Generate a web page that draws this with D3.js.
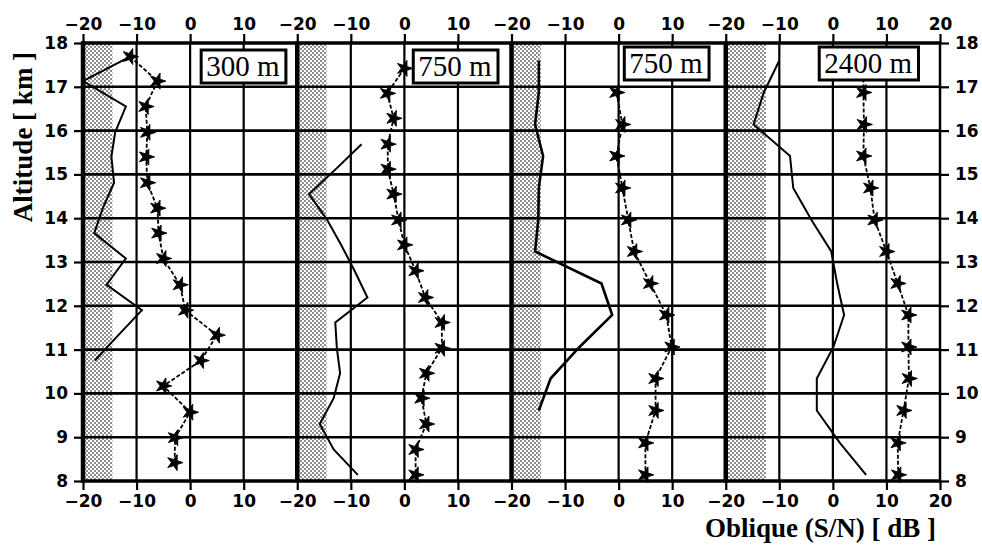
<!DOCTYPE html>
<html>
<head>
<meta charset="utf-8">
<script src="https://cdn.jsdelivr.net/npm/d3@7"></script>
<style>
body { margin: 0; background: #fff; }
svg { display: block; }
.tick text { font-family: "DejaVu Sans", sans-serif; font-weight: bold; font-size: 17px; fill: #000; }
.tick line { stroke: #000; stroke-width: 2.2; }
</style>
</head>
<body>
<svg id="chart" width="982" height="549"></svg>
<script>
// panel titles and the right edge of the noise (stippled) band, in dB
const panelLabels = ["300 m", "750 m", "750 m", "2400 m"];
const noiseEdge = [-14.5, -14.5, -14.5, -12.5];

// panel 1 (300 m)
const alt1 = [17.69, 17.13, 16.55, 15.96, 15.40, 14.81, 14.23, 13.66, 13.08, 12.48, 11.90, 11.33, 10.75, 10.17, 9.57, 8.99, 8.42];
const star1 = [-11.2, -6.1, -8.3, -8.0, -8.2, -8.0, -6.1, -5.9, -5.0, -1.9, -0.9, 5.0, 2.0, -5.0, 0.0, -2.8, -2.9];
const solid1 = [-11.2, -20, -12.0, -14.0, -14.7, -14.2, -16.3, -17.9, -12.0, -15.6, -9.0, -13.4, -17.8, null, null, null, null];

// panel 2 (750 m)
const alt2 = [17.42, 16.85, 16.28, 15.69, 15.12, 14.55, 13.96, 13.39, 12.80, 12.19, 11.62, 11.03, 10.46, 9.89, 9.30, 8.72, 8.14];
const star2 = [0.0, -3.2, -2.0, -3.1, -3.1, -2.0, -1.1, 0.0, 2.1, 3.9, 7.0, 7.0, 4.1, 3.2, 4.1, 2.1, 2.1];
const solid2 = [null, null, null, -8.0, -12.8, -17.8, -14.4, -11.8, -9.3, -6.9, -12.9, -12.6, -12.0, -13.2, -15.8, -13.2, -8.7];

// panel 3 (750 m)
const alt3 = [17.6, 16.87, 16.14, 15.42, 14.69, 13.96, 13.24, 12.51, 11.79, 11.06, 10.34, 9.61, 8.87, 8.14];
const star3 = [null, -0.4, 0.7, -0.4, 0.7, 1.8, 2.9, 5.9, 8.9, 9.9, 6.9, 6.9, 5.0, 5.0];
const solid3 = [-14.9, -14.9, -15.6, -14.1, -14.9, -15.0, -15.6, -3.2, -1.2, -7.3, -12.7, -14.9, null, null];

// panel 4 (2400 m)
const alt4 = [17.6, 16.87, 16.14, 15.42, 14.69, 13.96, 13.24, 12.51, 11.79, 11.06, 10.34, 9.61, 8.87, 8.14];
const star4 = [5.7, 5.7, 5.8, 5.7, 7.0, 7.8, 10.0, 12.1, 14.1, 14.1, 14.2, 13.2, 12.1, 12.2];
const solid4 = [-10.0, -12.9, -14.8, -8.0, -7.4, -4.0, -0.3, 0.8, 2.1, 0.1, -3.0, -3.0, 1.3, 6.2];

const panels = [
  { alt: alt1, star: star1, solid: solid1 },
  { alt: alt2, star: star2, solid: solid2 },
  { alt: alt3, star: star3, solid: solid3 },
  { alt: alt4, star: star4, solid: solid4 }
];

// layout
const mLeft = 83, mRight = 940, mTop = 43, mBottom = 481;
const pw = (mRight - mLeft) / 4;
const labelRight = [17.8, 17.4, 16.8, 15.9];
const labelTop = [50, 50, 47, 47];

const svg = d3.select("#chart");
const y = d3.scaleLinear().domain([8, 18]).range([mBottom, mTop]);
const xs = d3.range(4).map(i => d3.scaleLinear().domain([-20, 20]).range([mLeft + i * pw, mLeft + (i + 1) * pw]));

const defs = svg.append("defs");
const pat = defs.append("pattern").attr("id", "stip").attr("width", 4).attr("height", 4).attr("patternUnits", "userSpaceOnUse");
pat.append("rect").attr("width", 4).attr("height", 4).attr("fill", "#fff");
pat.append("circle").attr("cx", 1).attr("cy", 1).attr("r", 0.8).attr("fill", "#000");
pat.append("circle").attr("cx", 3).attr("cy", 3).attr("r", 0.8).attr("fill", "#000");

// noise bands
svg.append("g").selectAll("rect").data(noiseEdge).enter().append("rect")
  .attr("x", (d, i) => xs[i](-20))
  .attr("width", (d, i) => xs[i](d) - xs[i](-20))
  .attr("y", mTop).attr("height", mBottom - mTop)
  .attr("fill", "url(#stip)");

// grid
const grid = svg.append("g").attr("stroke", "#000");
grid.selectAll(".h").data(d3.range(9, 18)).enter().append("line")
  .attr("x1", mLeft).attr("x2", mRight).attr("y1", d => y(d)).attr("y2", d => y(d))
  .attr("stroke-width", 2.6);
xs.forEach((x, i) => {
  grid.selectAll(".v" + i).data([-10, 0, 10]).enter().append("line")
    .attr("x1", d => x(d)).attr("x2", d => x(d)).attr("y1", mTop).attr("y2", mBottom)
    .attr("stroke-width", 2.2);
  grid.append("line").attr("x1", x(-20)).attr("x2", x(-20)).attr("y1", mTop - 1.5).attr("y2", mBottom + 1.5)
    .attr("stroke-width", 4.5);
});
grid.append("line").attr("x1", mRight).attr("x2", mRight).attr("y1", mTop - 1.5).attr("y2", mBottom + 1.5).attr("stroke-width", 2.5);
grid.selectAll(".f").data([8, 18]).enter().append("line")
  .attr("x1", mLeft - 2).attr("x2", mRight + 1).attr("y1", d => y(d)).attr("y2", d => y(d))
  .attr("stroke-width", 3.5);

// axes
xs.forEach((x, i) => {
  const tv = i === 3 ? [-20, -10, 0, 10, 20] : [-20, -10, 0, 10];
  svg.append("g").attr("transform", `translate(0,${mTop})`)
    .call(d3.axisTop(x).tickValues(tv).tickSize(9).tickPadding(4).tickFormat(d3.format("d")))
    .call(g => g.select(".domain").remove());
  svg.append("g").attr("transform", `translate(0,${mBottom})`)
    .call(d3.axisBottom(x).tickValues(tv).tickSize(9).tickPadding(5).tickFormat(d3.format("d")))
    .call(g => g.select(".domain").remove());
});
svg.append("g").attr("transform", `translate(${mLeft},0)`)
  .call(d3.axisLeft(y).ticks(10).tickSize(9).tickPadding(6).tickFormat(d3.format("d")))
  .call(g => g.select(".domain").remove());
svg.append("g").attr("transform", `translate(${mRight},0)`)
  .call(d3.axisRight(y).ticks(10).tickSize(9).tickPadding(6).tickFormat(d3.format("d")))
  .call(g => g.select(".domain").remove());

// data
const star = d3.symbol().type(d3.symbolStar).size(80);
panels.forEach((p, i) => {
  const x = xs[i];
  const solid = p.alt.map((a, k) => [a, p.solid[k]]);
  const dashed = p.alt.map((a, k) => [a, p.star[k]]);
  const line = d3.line().defined(d => d[1] != null).x(d => x(d[1])).y(d => y(d[0]));
  svg.append("path").datum(solid).attr("d", line)
    .attr("fill", "none").attr("stroke", "#000").attr("stroke-width", i === 2 ? 2.6 : 2).attr("stroke-linejoin", "miter");
  svg.append("path").datum(dashed).attr("d", line)
    .attr("fill", "none").attr("stroke", "#000").attr("stroke-width", 1.8).attr("stroke-dasharray", "4,2");
  svg.append("g").selectAll("path").data(dashed.filter(d => d[1] != null)).enter().append("path")
    .attr("d", star).attr("fill", "#000").attr("stroke", "#000").attr("stroke-width", 0.8)
    .attr("transform", d => `translate(${x(d[1])},${y(d[0])}) rotate(18)`);
});

// panel labels
panelLabels.forEach((t, i) => {
  const g = svg.append("g");
  const txt = g.append("text").text(t)
    .attr("font-family", "Liberation Serif, serif").attr("font-size", 29)
    .attr("text-anchor", "end")
    .attr("x", xs[i](labelRight[i]) - 6).attr("y", labelTop[i] + 26);
  const bb = txt.node().getBBox();
  g.insert("rect", "text")
    .attr("x", bb.x - 5).attr("y", labelTop[i])
    .attr("width", bb.width + 11).attr("height", 33)
    .attr("fill", "#fff").attr("stroke", "#000").attr("stroke-width", 3);
});

// titles
svg.append("text").text("Altitude [ km ]")
  .attr("transform", "translate(32,137) rotate(-90)")
  .attr("text-anchor", "middle")
  .attr("font-family", "Liberation Serif, serif").attr("font-weight", "bold").attr("font-size", 27);
svg.append("text").text("Oblique (S/N) [ dB ]")
  .attr("x", 705).attr("y", 537)
  .attr("font-family", "Liberation Serif, serif").attr("font-weight", "bold").attr("font-size", 27);
</script>
</body>
</html>
